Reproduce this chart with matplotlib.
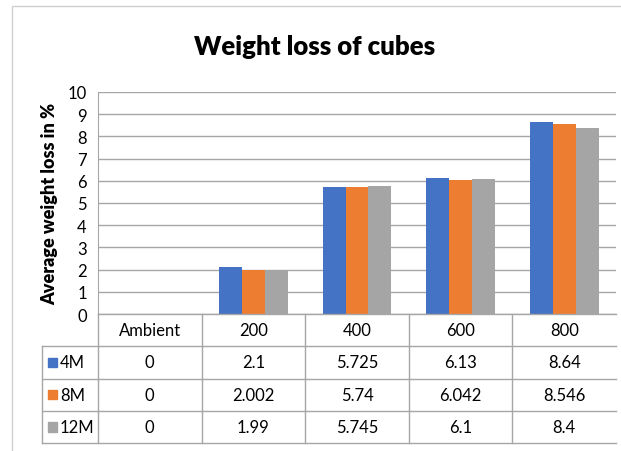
import matplotlib.pyplot as plt
from matplotlib.patches import Rectangle
import numpy as np

categories = ['Ambient', '200', '400', '600', '800']
series = ['4M', '8M', '12M']
vals_4m = [0, 2.1, 5.725, 6.13, 8.64]
vals_8m = [0, 2.002, 5.74, 6.042, 8.546]
vals_12m = [0, 1.99, 5.745, 6.1, 8.4]
labels_4m = ['0', '2.1', '5.725', '6.13', '8.64']
labels_8m = ['0', '2.002', '5.74', '6.042', '8.546']
labels_12m = ['0', '1.99', '5.745', '6.1', '8.4']
colors = ['#4472C4', '#ED7D31', '#A5A5A5']

plt.rcParams['font.family'] = ['Lato', 'DejaVu Sans']

W, H = 621, 452
fig = plt.figure(figsize=(W / 100, H / 100), dpi=100)

def box(x0, y0, x1, y1):
    # pixel box -> figure fraction
    return [x0 / W, 1 - y1 / H, (x1 - x0) / W, (y1 - y0) / H]

# outer chart frame
fig.add_artist(Rectangle((12 / W, -0.1), 1.2, 1 - 7 / H + 0.1, transform=fig.transFigure,
                         fill=False, edgecolor='#cfcfcf', linewidth=1))

grid_c = '#a6a6a6'
ax = fig.add_axes(box(98, 93, 616, 315))
x = np.arange(len(categories)) + 0.5
bw = 0.222
for i, (vals, c) in enumerate(zip([vals_4m, vals_8m, vals_12m], colors)):
    ax.bar(x + (i - 1) * bw, vals, width=bw, color=c, zorder=3)
ax.set_xlim(0, 5)
ax.set_ylim(0, 10)
ax.set_yticks(range(11))
ax.yaxis.grid(True, color=grid_c, linewidth=1)
ax.set_xticks([])
for s in ['top', 'right', 'bottom']:
    ax.spines[s].set_visible(False)
ax.spines['left'].set_color(grid_c)
ax.tick_params(axis='y', length=0, labelsize=12, pad=8)
ax.set_ylabel('Average weight loss in %', fontsize=13, fontweight='heavy', labelpad=7)

fig.text(315 / W, 1 - 47 / H, 'Weight loss of cubes', ha='center', va='center',
         fontsize=18.5, fontweight='heavy')

# data table below the plot
tax = fig.add_axes(box(42, 315, 616, 444))
cw = 518 / 5
tax.set_xlim(-56 / cw, 5)
tax.set_ylim(4, 0)
tax.axis('off')
lk = dict(color=grid_c, linewidth=1, clip_on=False)
tax.plot([0, 5], [0, 0], **lk)
for r in [1, 2, 3, 4]:
    tax.plot([-56 / cw, 5], [r, r], **lk)
for c in range(5):
    tax.plot([c, c], [0, 4], **lk)
tax.plot([-56 / cw, -56 / cw], [1, 4], **lk)

fs = 12
for c, name in enumerate(categories):
    tax.text(c + 0.5, 0.5, name, ha='center', va='center', fontsize=fs)
rows = [labels_4m, labels_8m, labels_12m]
for r, (name, labs, col) in enumerate(zip(series, rows, colors)):
    y = r + 1.5
    tax.add_patch(Rectangle((-50 / cw, y - 0.15), 9 / cw, 0.3, color=col, clip_on=False))
    tax.text(-38 / cw, y, name, ha='left', va='center', fontsize=fs)
    for c, lab in enumerate(labs):
        tax.text(c + 0.5, y, lab, ha='center', va='center', fontsize=fs)

fig.savefig('out.png', dpi=100)
